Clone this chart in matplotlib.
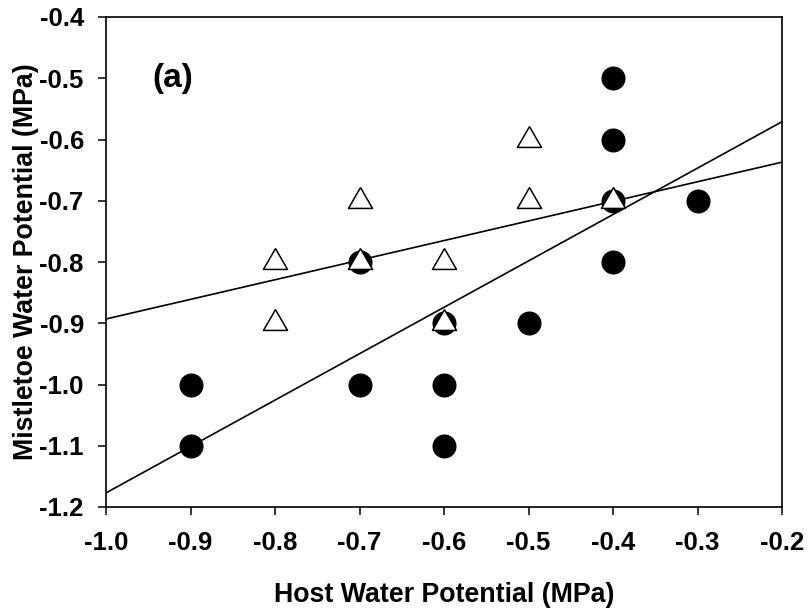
import numpy as np
import matplotlib
matplotlib.use('Agg')
import matplotlib.pyplot as plt

plt.rcParams['font.family'] = ['Liberation Sans', 'DejaVu Sans']

# host vs mistletoe water potential (MPa)
circle_x = [-0.9, -0.9, -0.7, -0.7, -0.6, -0.6, -0.6, -0.5, -0.4, -0.4, -0.4, -0.4, -0.3]
circle_y = [-1.0, -1.1, -0.8, -1.0, -0.9, -1.0, -1.1, -0.9, -0.5, -0.6, -0.7, -0.8, -0.7]

tri_x = [-0.8, -0.8, -0.7, -0.7, -0.6, -0.6, -0.5, -0.5, -0.4]
tri_y = [-0.8, -0.9, -0.7, -0.8, -0.8, -0.9, -0.6, -0.7, -0.7]

# regression lines (value at x=-1.0, slope)
steep_fit = (-1.177, 0.7575)
shallow_fit = (-0.893, 0.32)

xticks = [-1.0, -0.9, -0.8, -0.7, -0.6, -0.5, -0.4, -0.3, -0.2]
yticks = [-1.2, -1.1, -1.0, -0.9, -0.8, -0.7, -0.6, -0.5, -0.4]

fig = plt.figure(figsize=(8.08, 6.15), dpi=100)
ax = fig.add_axes([106 / 808, 1 - 507 / 615, (782 - 106) / 808, (507 - 17) / 615])

xl = np.array([-1.0, -0.2])
for b0, m in (steep_fit, shallow_fit):
    ax.plot(xl, b0 + m * (xl - xl[0]), color='black', lw=1.2, zorder=2)

# equilateral triangle centred on its centroid
tri = [(0, 1.155), (-1, -0.577), (1, -0.577), (0, 1.155)]

ax.plot(circle_x, circle_y, 'o', ms=16.3, color='black', zorder=3)
ax.plot(tri_x, tri_y, marker=tri, ls='none', ms=20, mfc='white', mec='black', mew=1.1, zorder=4)

ax.text(-0.945, -0.5, '(a)', fontsize=24, fontweight='bold', va='center', ha='left')

ax.set_xlim(-1.0, -0.2)
ax.set_ylim(-1.2, -0.4)
ax.set_xticks(xticks)
ax.set_yticks(yticks)
ax.set_xticklabels([f'{v:.1f}' for v in xticks], fontsize=18.5, fontweight='bold')
ax.set_yticklabels([f'{v:.1f}' for v in yticks], fontsize=18.5, fontweight='bold')
ax.tick_params(direction='out', length=6, width=1.1)
ax.tick_params(axis='x', pad=11)
ax.tick_params(axis='y', pad=10)
for s in ax.spines.values():
    s.set_linewidth(1.2)

ax.set_xlabel('Host Water Potential (MPa)', fontsize=19.3, fontweight='bold', va='baseline')
ax.xaxis.set_label_coords(0.5, (507 - 602) / 490)
ax.set_ylabel('Mistletoe Water Potential (MPa)', fontsize=19.3, fontweight='bold', va='center')
ax.yaxis.set_label_coords((26 - 106) / 676, 0.5)

fig.savefig('out.png', dpi=100)
